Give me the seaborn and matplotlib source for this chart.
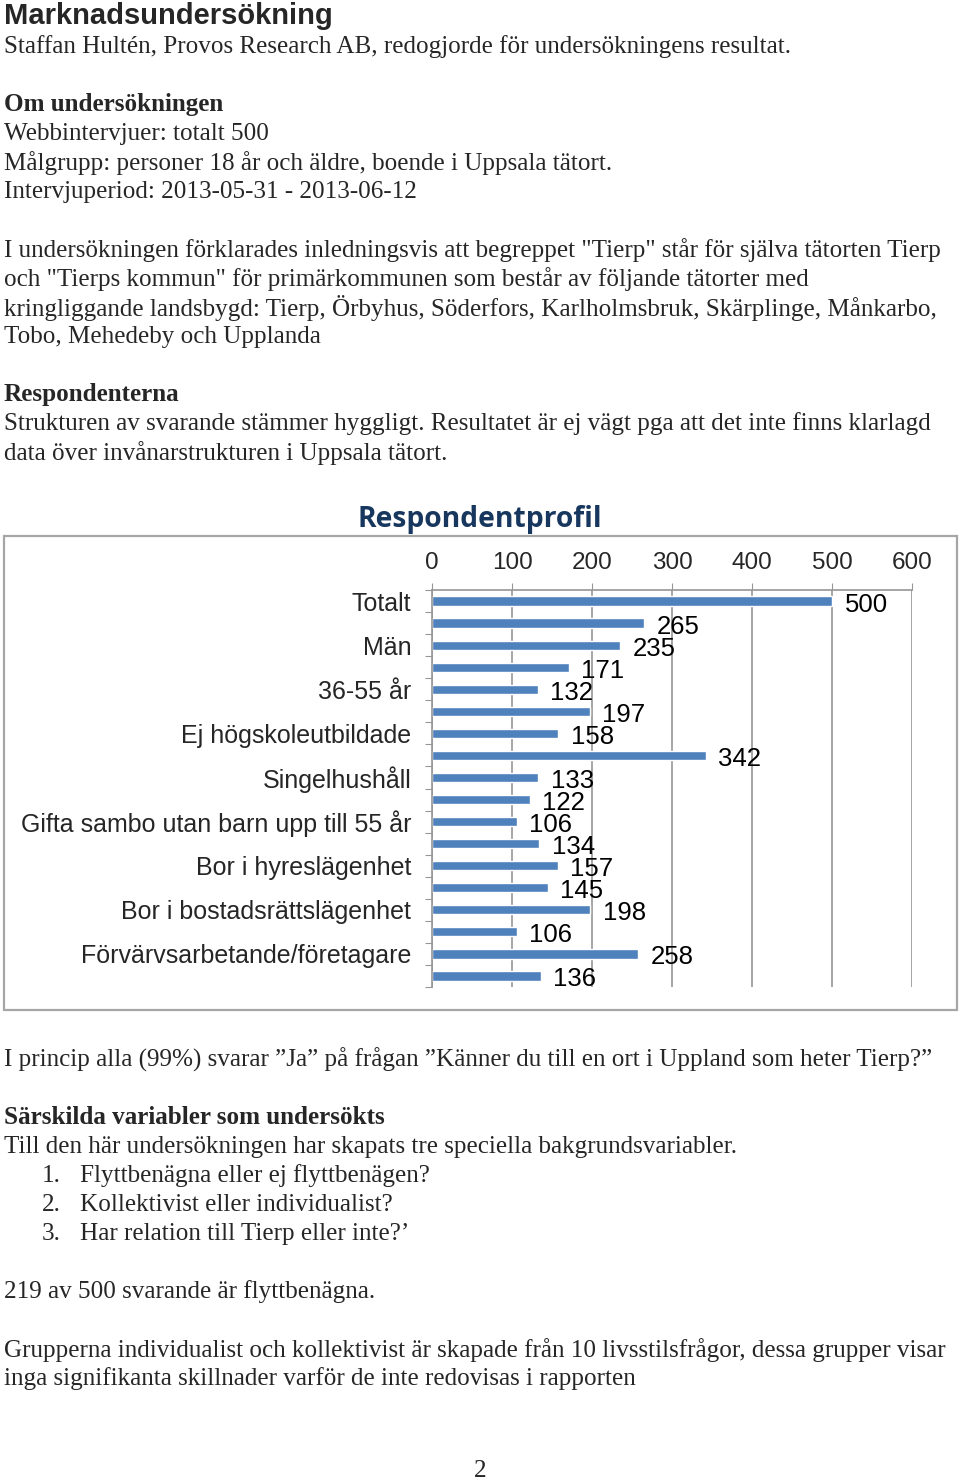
import matplotlib
matplotlib.use("Agg")
import matplotlib.pyplot as plt
import matplotlib.patches as patches
import seaborn as sns
import pandas as pd

# data: respondentprofil (every other category label is shown in the chart)
etiketter = ["Totalt", "", "Män", "", "36-55 år", "", "Ej högskoleutbildade", "",
             "Singelhushåll", "", "Gifta sambo utan barn upp till 55 år", "",
             "Bor i hyreslägenhet", "", "Bor i bostadsrättslägenhet", "",
             "Förvärvsarbetande/företagare", ""]
antal = [500, 265, 235, 171, 132, 197, 158, 342, 133, 122, 106, 134, 157, 145, 198, 106, 258, 136]
xticks = [0, 100, 200, 300, 400, 500, 600]

df = pd.DataFrame({"rad": list(range(len(antal))), "antal": antal})

sns.set_style("white")
plt.rcParams["font.family"] = ["Liberation Sans", "DejaVu Sans"]

W, H = 960, 1480
fig = plt.figure(figsize=(W / 100, H / 100), dpi=100)

def fx(px):
    return px / W

def fy(py):
    return 1 - py / H

serif = ["Liberation Serif", "DejaVu Serif"]
body = 18.1

def txt(x, y, s, size=body, weight="normal", family=serif, **kw):
    fig.text(fx(x), fy(y + 2), s, fontsize=size, fontweight=weight, family=family,
             va="center", ha=kw.pop("ha", "left"), **kw)

# document text above the chart
txt(4, 14, "Marknadsundersökning", size=21, weight="bold", family=["Liberation Sans"])
txt(4, 45, "Staffan Hultén, Provos Research AB, redogjorde för undersökningens resultat.")
txt(4, 103, "Om undersökningen", weight="bold")
txt(4, 132, "Webbintervjuer: totalt 500")
txt(4, 161, "Målgrupp: personer 18 år och äldre, boende i Uppsala tätort.")
txt(4, 190, "Intervjuperiod: 2013-05-31 - 2013-06-12")
txt(4, 248, 'I undersökningen förklarades inledningsvis att begreppet "Tierp" står för själva tätorten Tierp')
txt(4, 277, 'och "Tierps kommun" för primärkommunen som består av följande tätorter med')
txt(4, 306, "kringliggande landsbygd: Tierp, Örbyhus, Söderfors, Karlholmsbruk, Skärplinge, Månkarbo,")
txt(4, 335, "Tobo, Mehedeby och Upplanda")
txt(4, 393, "Respondenterna", weight="bold")
txt(4, 422, "Strukturen av svarande stämmer hyggligt. Resultatet är ej vägt pga att det inte finns klarlagd")
txt(4, 451, "data över invånarstrukturen i Uppsala tätort.")

# chart frame and title
fig.patches.append(patches.Rectangle((fx(4), fy(1010)), fx(953), (1010 - 536) / H,
                                     transform=fig.transFigure, fill=False,
                                     edgecolor="#A6A6A6", linewidth=1.6))
fig.text(fx(480), fy(519), "Respondentprofil", fontsize=20.3, fontweight="bold",
         color="#17375E", ha="center", va="center", family=["Open Sans", "DejaVu Sans"])

ax = fig.add_axes([fx(432), fy(987), fx(912 - 432), (987 - 590) / H])
sns.barplot(data=df, x="antal", y="rad", orient="h", color="#4F81BD",
            saturation=1, width=0.42, ax=ax)

ax.set_xlim(0, 600)
ax.set_ylim(len(antal) - 0.5, -0.5)
ax.set_xticks(xticks)
ax.xaxis.tick_top()
ax.tick_params(axis="x", direction="out", length=5, color="#969696",
               labelsize=17.5, pad=6.5)
ax.grid(axis="x", color="#969696", linewidth=1.2)
ax.set_axisbelow(True)

# tick marks between categories, labels on every other row
ax.set_yticks([i - 0.5 for i in range(len(antal) + 1)])
ax.set_yticklabels([])
ax.tick_params(axis="y", which="major", direction="out", length=5, color="#969696", left=True)
ax.set_yticks(df["rad"], minor=True)
ax.set_yticklabels(etiketter, minor=True)
ax.tick_params(axis="y", which="minor", length=0, labelsize=18, pad=15)
ax.set_xlabel("")
ax.set_ylabel("")

for side in ["right", "bottom"]:
    ax.spines[side].set_visible(False)
for side in ["left", "top"]:
    ax.spines[side].set_color("#969696")
    ax.spines[side].set_linewidth(1.2)

for t in ax.bar_label(ax.containers[0], labels=[str(v) for v in antal], padding=9,
                      fontsize=18.5, color="black"):
    t.set_va("center")
    t.set_y(-2.5)

# document text below the chart
txt(4, 1058, "I princip alla (99%) svarar ”Ja” på frågan ”Känner du till en ort i Uppland som heter Tierp?”")
txt(4, 1116, "Särskilda variabler som undersökts", weight="bold")
txt(4, 1145, "Till den här undersökningen har skapats tre speciella bakgrundsvariabler.")
txt(42, 1174, "1.")
txt(80, 1174, "Flyttbenägna eller ej flyttbenägen?")
txt(42, 1203, "2.")
txt(80, 1203, "Kollektivist eller individualist?")
txt(42, 1232, "3.")
txt(80, 1232, "Har relation till Tierp eller inte?’")
txt(4, 1290, "219 av 500 svarande är flyttbenägna.")
txt(4, 1348, "Grupperna individualist och kollektivist är skapade från 10 livsstilsfrågor, dessa grupper visar")
txt(4, 1377, "inga signifikanta skillnader varför de inte redovisas i rapporten")
txt(480, 1469, "2", ha="center")

fig.savefig("out.png", dpi=100)
